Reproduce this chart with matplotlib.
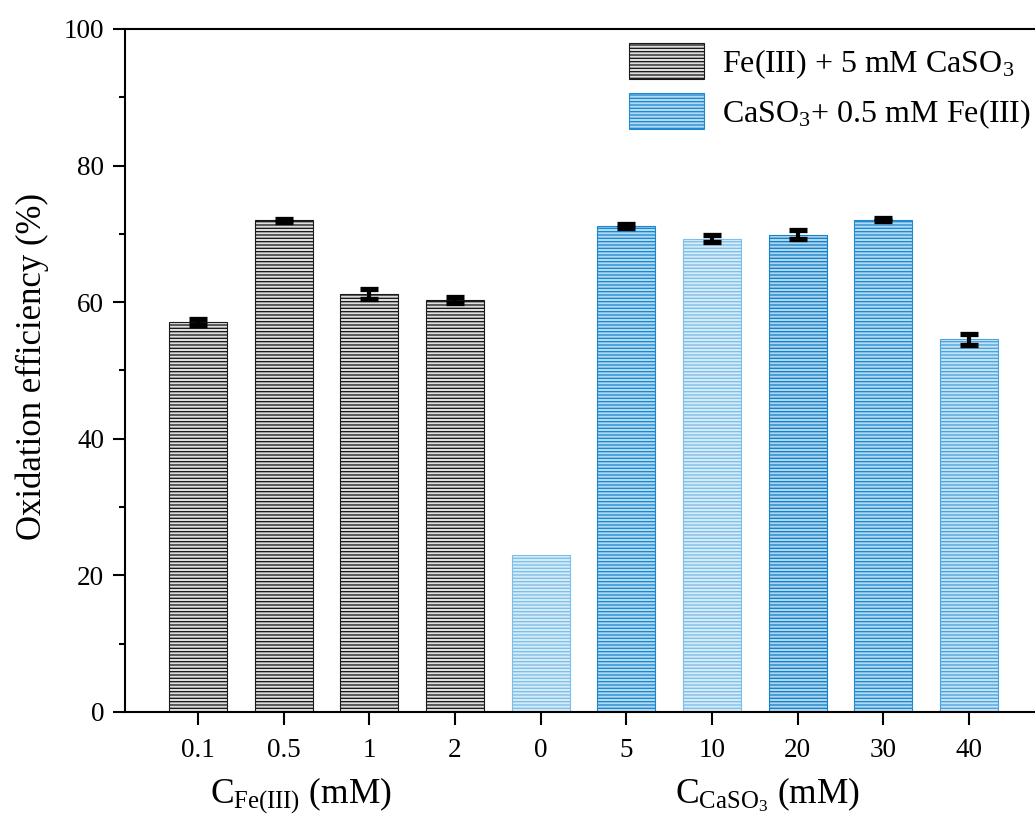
import matplotlib
matplotlib.use("Agg")
import matplotlib.pyplot as plt
from matplotlib.patches import Patch
from matplotlib.ticker import MultipleLocator

fe_labels = ["0.1", "0.5", "1", "2"]
fe_values = [57.1, 72.0, 61.2, 60.3]
fe_errors = [0.45, 0.2, 0.8, 0.4]

ca_labels = ["0", "5", "10", "20", "30", "40"]
ca_values = [23.0, 71.2, 69.3, 69.9, 72.1, 54.6]
ca_errors = [0.0, 0.3, 0.5, 0.6, 0.25, 0.8]

legend_labels = ["Fe(III) + 5 mM CaSO$_3$", "CaSO$_3$+ 0.5 mM Fe(III)"]

plt.rcParams['font.family'] = ['Liberation Serif', 'DejaVu Serif']
plt.rcParams['mathtext.fontset'] = 'custom'
plt.rcParams['mathtext.rm'] = 'Liberation Serif'
plt.rcParams['mathtext.it'] = 'Liberation Serif'
plt.rcParams['hatch.linewidth'] = 0.95

W, H = 1035, 816
fig = plt.figure(figsize=(W / 100, H / 100), dpi=100)
ax = fig.add_axes([0.1208, 0.1275, 1.0 - 0.1208, 0.837])

n_fe = len(fe_values)
x_fe = list(range(n_fe))
x_ca = list(range(n_fe, n_fe + len(ca_values)))
width = 0.68

fe_face = '#dedede'
fe_edge = '#1a1a1a'
ca_faces = ['#d6ebf8', '#b3daf2', '#d6ebf8', '#aed6f0', '#b3daf2', '#c4e2f5']
ca_edges = ['#7cbfe8', '#1a88cf', '#7cbfe8', '#1480c8', '#1f8ad0', '#4aa3dc']

ax.bar(x_fe, fe_values, width=width, color=fe_face, edgecolor=fe_edge,
       hatch='-----', linewidth=0.8, zorder=2)
for xi, v, fc, ec in zip(x_ca, ca_values, ca_faces, ca_edges):
    ax.bar(xi, v, width=width, color=fc, edgecolor=ec, hatch='-----',
           linewidth=0.8, zorder=2)

err_x = [x for x, e in zip(x_fe + x_ca, fe_errors + ca_errors) if e > 0]
err_y = [v for v, e in zip(fe_values + ca_values, fe_errors + ca_errors) if e > 0]
err_e = [e for e in fe_errors + ca_errors if e > 0]
eb = ax.errorbar(err_x, err_y, yerr=err_e, fmt='none', ecolor='black',
                 elinewidth=3, capsize=6.5, capthick=3.8, zorder=3)
for cap in eb[1]:
    cap.set_solid_capstyle('round')

ax.set_xlim(-0.852, 9.77)
ax.set_ylim(0, 100)
ax.set_xticks(x_fe + x_ca)
ax.set_xticklabels(fe_labels + ca_labels)
ax.yaxis.set_major_locator(MultipleLocator(20))
ax.yaxis.set_minor_locator(MultipleLocator(10))
ax.tick_params(axis='both', which='major', direction='out', length=9,
               width=1.5, labelsize=19.5)
ax.tick_params(axis='x', pad=10)
ax.tick_params(axis='y', pad=6)
ax.tick_params(axis='y', which='minor', direction='out', length=4.5, width=1.5)
ax.tick_params(axis='x', which='minor', bottom=False)
for s in ['left', 'bottom', 'top']:
    ax.spines[s].set_linewidth(1.5)
ax.spines['right'].set_visible(False)

ax.set_ylabel('Oxidation efficiency (%)', fontsize=25)
ax.yaxis.set_label_coords(-0.0835, 0.506)

fig.text(210 / W, 1 - 803 / H, r'C$_{\mathrm{Fe(III)}}$ (mM)', fontsize=25.5,
         ha='left', va='baseline')
fig.text(675 / W, 1 - 803 / H, r'C$_{\mathrm{CaSO_3}}$ (mM)', fontsize=25.5,
         ha='left', va='baseline')

handles = [Patch(facecolor=fe_face, edgecolor=fe_edge, hatch='-----', linewidth=0.8),
           Patch(facecolor='#b3daf2', edgecolor='#1f8ad0', hatch='-----', linewidth=0.8)]
ax.legend(handles, legend_labels, loc='upper right', bbox_to_anchor=(1.011, 1.0),
          frameon=False, fontsize=23, handlelength=2.35, handleheight=1.35,
          handletextpad=0.55, labelspacing=0.4, borderaxespad=0.15,
          borderpad=0.3)

fig.savefig('out.png', dpi=100)
